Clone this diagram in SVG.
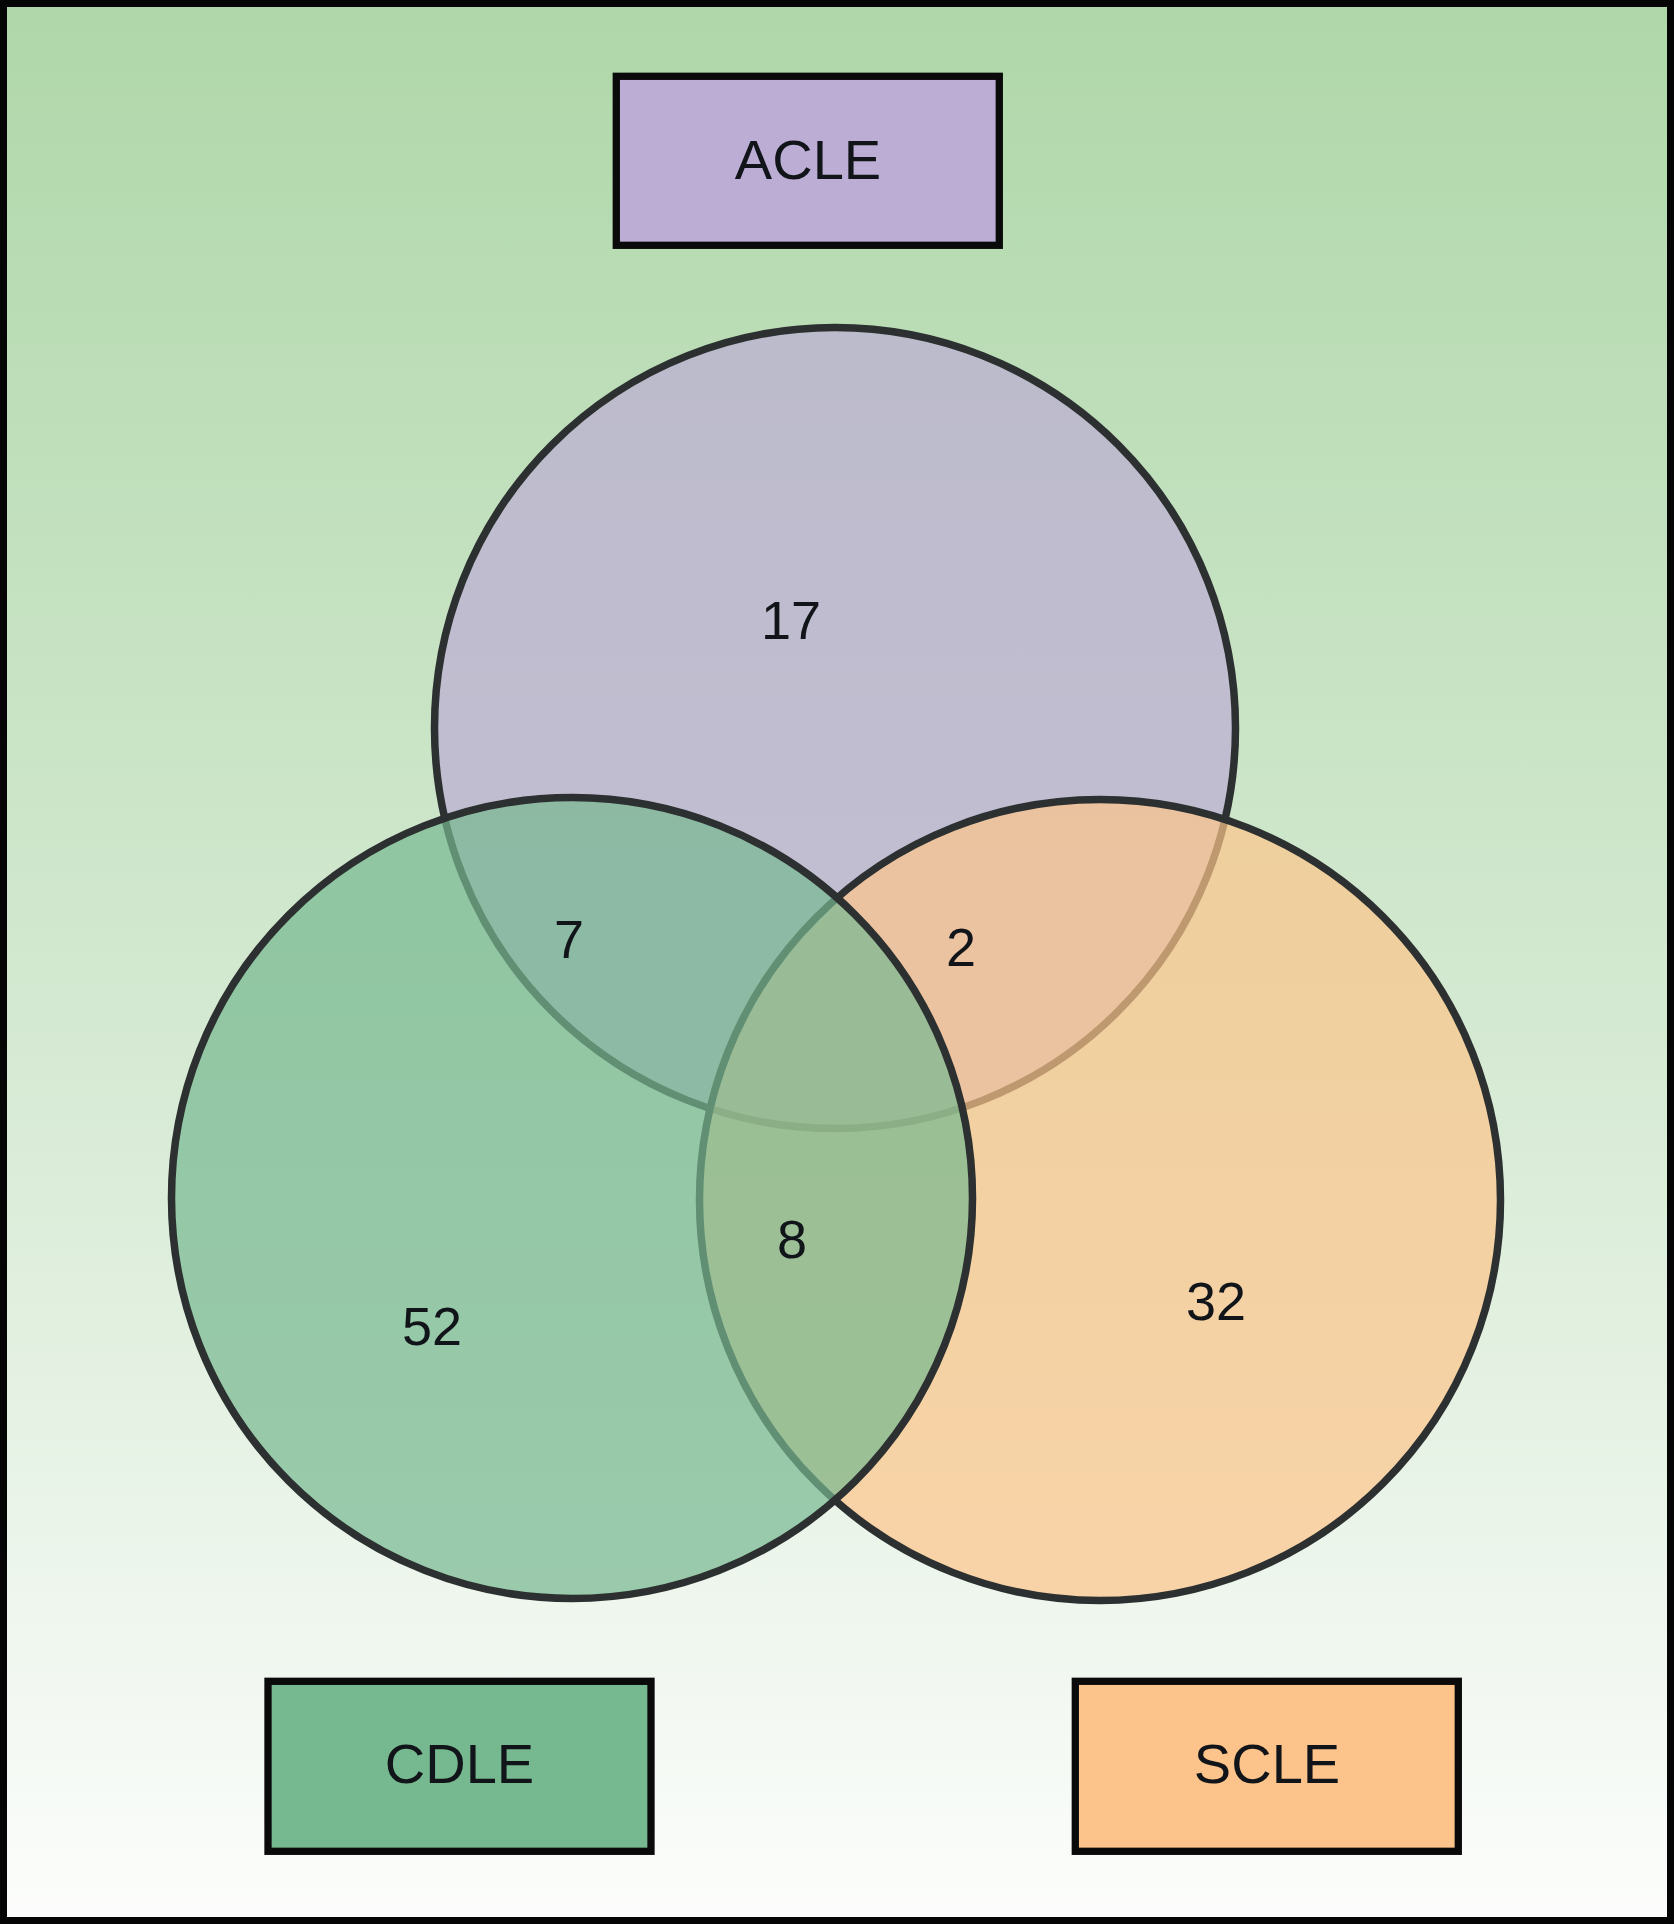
<svg xmlns="http://www.w3.org/2000/svg" width="1674" height="1924" viewBox="0 0 1674 1924">
<style>
.box{stroke:#0a0a0a;stroke-width:7.3}
.venn{stroke:#2c3030;stroke-width:7.5;fill-opacity:0.7}
.lbl{font-family:"Liberation Sans",Arial,Helvetica,sans-serif;font-size:56px;fill:#111418;text-anchor:middle}
.num{font-family:"Liberation Sans",Arial,Helvetica,sans-serif;font-size:54px;fill:#111418;text-anchor:middle}
</style>
<defs>
<linearGradient id="bg" x1="0" y1="0" x2="0" y2="1">
<stop offset="0" stop-color="#afd7a9"/>
<stop offset="0.5" stop-color="#d2e8cf"/>
<stop offset="1" stop-color="#fcfdfc"/>
</linearGradient>
</defs>
<rect x="3.5" y="3.5" width="1667" height="1917" fill="url(#bg)" stroke="#050505" stroke-width="7"/>
<g id="connectors"></g>
<g id="circle-acle"><circle class="venn" cx="835" cy="728" r="400.5" fill="#bcadd4"/></g>
<g id="circle-scle"><circle class="venn" cx="1100" cy="1200" r="400.5" fill="#fcc48a"/></g>
<g id="circle-cdle"><circle class="venn" cx="572" cy="1198" r="400.5" fill="#76b890"/></g>
<g id="node-acle"><rect class="box" x="616.3" y="76.3" width="383" height="169" fill="#bcadd4"/><text class="lbl" x="808" y="179">ACLE</text></g>
<g id="node-cdle"><rect class="box" x="268" y="1681.3" width="383" height="170" fill="#76b890"/><text class="lbl" x="459.5" y="1783">CDLE</text></g>
<g id="node-scle"><rect class="box" x="1075.3" y="1681.3" width="383" height="170" fill="#fcc48a"/><text class="lbl" x="1267" y="1783">SCLE</text></g>
<g id="counts">
<text class="num" x="791" y="638.5">17</text>
<text class="num" x="569" y="958">7</text>
<text class="num" x="961" y="965.5">2</text>
<text class="num" x="792" y="1258">8</text>
<text class="num" x="432" y="1345">52</text>
<text class="num" x="1216" y="1320">32</text>
</g>
</svg>
